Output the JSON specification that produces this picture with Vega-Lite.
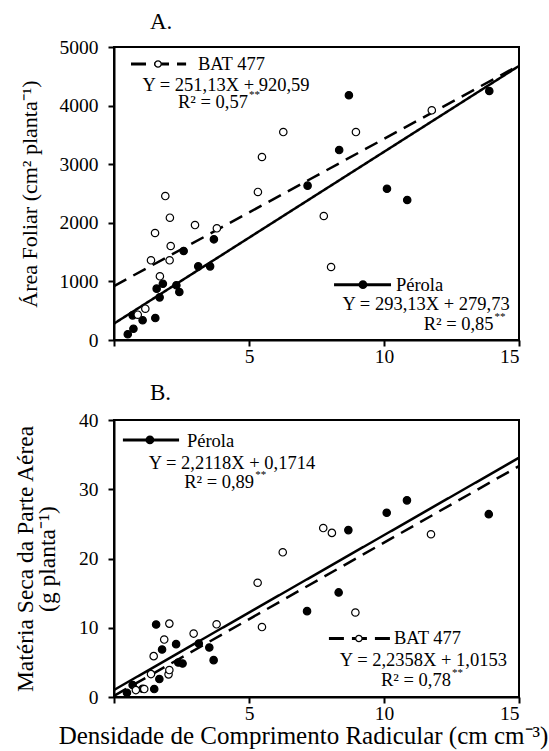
{
  "$schema": "https://vega.github.io/schema/vega-lite/v6.json",
  "background": "white",
  "padding": {"left": 12, "top": 10, "right": 5, "bottom": 5},
  "spacing": 14,
  "config": {
    "font": "Liberation Serif",
    "view": {"stroke": "black", "strokeWidth": 2},
    "axis": {
      "domainColor": "black", "domainWidth": 2,
      "tickColor": "black", "tickWidth": 2, "tickSize": 6,
      "labelFont": "Liberation Serif", "labelFontSize": 19.5, "labelColor": "black",
      "titleFont": "Liberation Serif", "titleFontSize": 22, "titleFontWeight": "normal", "titleColor": "black",
      "grid": false
    },
    "axisX": {"labelPadding": 1},
    "axisY": {"labelPadding": 10},
    "title": {"font": "Liberation Serif", "fontSize": 23, "fontWeight": "normal", "color": "black", "anchor": "start", "frame": "group"}
  },
  "datasets": {
    "pts_a": [
      {"dcr": 0.51, "af": 97, "cultivar": "Pérola"},
      {"dcr": 0.72, "af": 193, "cultivar": "Pérola"},
      {"dcr": 0.69, "af": 421, "cultivar": "Pérola"},
      {"dcr": 1.06, "af": 336, "cultivar": "Pérola"},
      {"dcr": 1.53, "af": 375, "cultivar": "Pérola"},
      {"dcr": 1.58, "af": 876, "cultivar": "Pérola"},
      {"dcr": 1.81, "af": 961, "cultivar": "Pérola"},
      {"dcr": 1.69, "af": 728, "cultivar": "Pérola"},
      {"dcr": 2.31, "af": 933, "cultivar": "Pérola"},
      {"dcr": 2.42, "af": 819, "cultivar": "Pérola"},
      {"dcr": 2.58, "af": 1519, "cultivar": "Pérola"},
      {"dcr": 3.12, "af": 1257, "cultivar": "Pérola"},
      {"dcr": 3.56, "af": 1257, "cultivar": "Pérola"},
      {"dcr": 3.70, "af": 1718, "cultivar": "Pérola"},
      {"dcr": 7.17, "af": 2634, "cultivar": "Pérola"},
      {"dcr": 8.34, "af": 3242, "cultivar": "Pérola"},
      {"dcr": 8.70, "af": 4176, "cultivar": "Pérola"},
      {"dcr": 10.11, "af": 2582, "cultivar": "Pérola"},
      {"dcr": 10.86, "af": 2389, "cultivar": "Pérola"},
      {"dcr": 13.9, "af": 4249, "cultivar": "Pérola"},
      {"dcr": 0.88, "af": 432, "cultivar": "BAT 477"},
      {"dcr": 1.16, "af": 534, "cultivar": "BAT 477"},
      {"dcr": 1.37, "af": 1360, "cultivar": "BAT 477"},
      {"dcr": 1.52, "af": 1826, "cultivar": "BAT 477"},
      {"dcr": 1.70, "af": 1087, "cultivar": "BAT 477"},
      {"dcr": 1.90, "af": 2457, "cultivar": "BAT 477"},
      {"dcr": 2.07, "af": 2087, "cultivar": "BAT 477"},
      {"dcr": 2.10, "af": 1604, "cultivar": "BAT 477"},
      {"dcr": 2.06, "af": 1360, "cultivar": "BAT 477"},
      {"dcr": 3.00, "af": 1962, "cultivar": "BAT 477"},
      {"dcr": 3.81, "af": 1906, "cultivar": "BAT 477"},
      {"dcr": 5.33, "af": 2526, "cultivar": "BAT 477"},
      {"dcr": 5.48, "af": 3123, "cultivar": "BAT 477"},
      {"dcr": 6.27, "af": 3549, "cultivar": "BAT 477"},
      {"dcr": 7.77, "af": 2116, "cultivar": "BAT 477"},
      {"dcr": 8.04, "af": 1246, "cultivar": "BAT 477"},
      {"dcr": 8.96, "af": 3549, "cultivar": "BAT 477"},
      {"dcr": 11.77, "af": 3920, "cultivar": "BAT 477"}
    ],
    "fit_a": [
      {"dcr": 0, "af": 279.73, "cultivar": "Pérola"},
      {"dcr": 15, "af": 4676.68, "cultivar": "Pérola"},
      {"dcr": 0, "af": 920.59, "cultivar": "BAT 477"},
      {"dcr": 15, "af": 4687.54, "cultivar": "BAT 477"}
    ],
    "pts_b": [
      {"dcr": 0.48, "ms": 0.62, "cultivar": "Pérola"},
      {"dcr": 0.69, "ms": 1.73, "cultivar": "Pérola"},
      {"dcr": 1.06, "ms": 1.2, "cultivar": "Pérola"},
      {"dcr": 1.49, "ms": 1.15, "cultivar": "Pérola"},
      {"dcr": 1.68, "ms": 2.59, "cultivar": "Pérola"},
      {"dcr": 1.56, "ms": 10.46, "cultivar": "Pérola"},
      {"dcr": 1.78, "ms": 6.86, "cultivar": "Pérola"},
      {"dcr": 2.30, "ms": 7.63, "cultivar": "Pérola"},
      {"dcr": 2.38, "ms": 4.99, "cultivar": "Pérola"},
      {"dcr": 2.54, "ms": 4.84, "cultivar": "Pérola"},
      {"dcr": 3.14, "ms": 7.72, "cultivar": "Pérola"},
      {"dcr": 3.53, "ms": 7.15, "cultivar": "Pérola"},
      {"dcr": 3.69, "ms": 5.32, "cultivar": "Pérola"},
      {"dcr": 7.15, "ms": 12.4, "cultivar": "Pérola"},
      {"dcr": 8.32, "ms": 15.1, "cultivar": "Pérola"},
      {"dcr": 8.68, "ms": 24.1, "cultivar": "Pérola"},
      {"dcr": 10.10, "ms": 26.6, "cultivar": "Pérola"},
      {"dcr": 10.85, "ms": 28.4, "cultivar": "Pérola"},
      {"dcr": 13.88, "ms": 26.4, "cultivar": "Pérola"},
      {"dcr": 0.81, "ms": 1.0, "cultivar": "BAT 477"},
      {"dcr": 1.12, "ms": 1.15, "cultivar": "BAT 477"},
      {"dcr": 1.37, "ms": 3.31, "cultivar": "BAT 477"},
      {"dcr": 1.47, "ms": 5.9, "cultivar": "BAT 477"},
      {"dcr": 1.86, "ms": 8.3, "cultivar": "BAT 477"},
      {"dcr": 2.05, "ms": 10.6, "cultivar": "BAT 477"},
      {"dcr": 2.02, "ms": 3.27, "cultivar": "BAT 477"},
      {"dcr": 2.05, "ms": 3.89, "cultivar": "BAT 477"},
      {"dcr": 2.95, "ms": 9.16, "cultivar": "BAT 477"},
      {"dcr": 3.80, "ms": 10.5, "cultivar": "BAT 477"},
      {"dcr": 5.32, "ms": 16.5, "cultivar": "BAT 477"},
      {"dcr": 5.48, "ms": 10.1, "cultivar": "BAT 477"},
      {"dcr": 6.25, "ms": 20.9, "cultivar": "BAT 477"},
      {"dcr": 7.75, "ms": 24.4, "cultivar": "BAT 477"},
      {"dcr": 8.07, "ms": 23.7, "cultivar": "BAT 477"},
      {"dcr": 8.94, "ms": 12.2, "cultivar": "BAT 477"},
      {"dcr": 11.74, "ms": 23.5, "cultivar": "BAT 477"}
    ],
    "fit_b": [
      {"dcr": 0, "ms": 1.0153, "line": "solid"},
      {"dcr": 15, "ms": 34.55, "line": "solid"},
      {"dcr": 0, "ms": 0.1714, "line": "dashed"},
      {"dcr": 15, "ms": 33.35, "line": "dashed"}
    ],
    "one": [{}]
  },
  "vconcat": [
    {
      "width": 405, "height": 293,
      "title": {"text": "A.", "dx": 36, "offset": 3},
      "layer": [
        {
          "data": {"name": "fit_a"},
          "mark": {"type": "line", "color": "black", "strokeWidth": 2.5},
          "encoding": {
            "x": {"field": "dcr", "type": "quantitative", "scale": {"domain": [0, 15], "nice": false},
                  "axis": {"title": null, "values": [0, 5, 10, 15], "labelExpr": "datum.value == 0 ? '' : datum.label"}},
            "y": {"field": "af", "type": "quantitative", "scale": {"domain": [0, 5000], "nice": false},
                  "axis": {"title": "Área Foliar (cm² planta⁻¹)", "values": [0, 1000, 2000, 3000, 4000, 5000], "format": "d", "titlePadding": 18}},
            "detail": {"field": "cultivar"},
            "strokeDash": {"field": "cultivar", "type": "nominal", "scale": {"domain": ["Pérola", "BAT 477"], "range": [[1, 0], [14, 8]]}, "legend": null}
          }
        },
        {
          "data": {"name": "pts_a"},
          "mark": {"type": "point", "shape": "circle", "size": 55, "stroke": "black", "strokeWidth": 1.2, "opacity": 1},
          "encoding": {
            "x": {"field": "dcr", "type": "quantitative"},
            "y": {"field": "af", "type": "quantitative"},
            "fill": {"field": "cultivar", "type": "nominal", "scale": {"domain": ["Pérola", "BAT 477"], "range": ["black", "white"]}, "legend": null}
          }
        },
        {
          "data": {"name": "one"},
          "mark": {"type": "rule", "color": "black", "strokeWidth": 3, "strokeDash": [15, 8]},
          "encoding": {"x": {"datum": 0.63, "type": "quantitative"}, "x2": {"datum": 2.67}, "y": {"datum": 4710, "type": "quantitative"}}
        },
        {
          "data": {"name": "one"},
          "mark": {"type": "point", "shape": "circle", "size": 40, "fill": "white", "stroke": "black", "strokeWidth": 1.2, "opacity": 1},
          "encoding": {"x": {"datum": 1.63, "type": "quantitative"}, "y": {"datum": 4710, "type": "quantitative"}}
        },
        {
          "data": {"name": "one"},
          "mark": {"type": "text", "align": "left", "baseline": "middle", "fontSize": 18.5, "color": "black"},
          "encoding": {"x": {"datum": 3.11, "type": "quantitative"}, "y": {"datum": 4710, "type": "quantitative"}, "text": {"value": "BAT 477"}}
        },
        {
          "data": {"name": "one"},
          "mark": {"type": "text", "align": "center", "baseline": "middle", "fontSize": 18.5, "color": "black"},
          "encoding": {"x": {"datum": 4.15, "type": "quantitative"}, "y": {"datum": 4352, "type": "quantitative"}, "text": {"value": "Y = 251,13X + 920,59"}}
        },
        {
          "data": {"name": "one"},
          "mark": {"type": "text", "align": "right", "baseline": "middle", "fontSize": 18.5, "color": "black"},
          "encoding": {"x": {"datum": 4.96, "type": "quantitative"}, "y": {"datum": 4061, "type": "quantitative"}, "text": {"value": "R² = 0,57"}}
        },
        {
          "data": {"name": "one"},
          "mark": {"type": "text", "align": "left", "baseline": "middle", "fontSize": 11, "dy": -7, "dx": 1, "color": "black"},
          "encoding": {"x": {"datum": 4.96, "type": "quantitative"}, "y": {"datum": 4061, "type": "quantitative"}, "text": {"value": "**"}}
        },
        {
          "data": {"name": "one"},
          "mark": {"type": "rule", "color": "black", "strokeWidth": 3},
          "encoding": {"x": {"datum": 8.15, "type": "quantitative"}, "x2": {"datum": 10.26}, "y": {"datum": 944, "type": "quantitative"}}
        },
        {
          "data": {"name": "one"},
          "mark": {"type": "point", "shape": "circle", "size": 45, "fill": "black", "stroke": "black", "opacity": 1},
          "encoding": {"x": {"datum": 9.22, "type": "quantitative"}, "y": {"datum": 944, "type": "quantitative"}}
        },
        {
          "data": {"name": "one"},
          "mark": {"type": "text", "align": "left", "baseline": "middle", "fontSize": 18.5, "color": "black"},
          "encoding": {"x": {"datum": 10.44, "type": "quantitative"}, "y": {"datum": 944, "type": "quantitative"}, "text": {"value": "Pérola"}}
        },
        {
          "data": {"name": "one"},
          "mark": {"type": "text", "align": "center", "baseline": "middle", "fontSize": 18.5, "color": "black"},
          "encoding": {"x": {"datum": 11.56, "type": "quantitative"}, "y": {"datum": 614, "type": "quantitative"}, "text": {"value": "Y = 293,13X + 279,73"}}
        },
        {
          "data": {"name": "one"},
          "mark": {"type": "text", "align": "right", "baseline": "middle", "fontSize": 18.5, "color": "black"},
          "encoding": {"x": {"datum": 14.06, "type": "quantitative"}, "y": {"datum": 273, "type": "quantitative"}, "text": {"value": "R² = 0,85"}}
        },
        {
          "data": {"name": "one"},
          "mark": {"type": "text", "align": "left", "baseline": "middle", "fontSize": 11, "dy": -7, "dx": 1, "color": "black"},
          "encoding": {"x": {"datum": 14.06, "type": "quantitative"}, "y": {"datum": 273, "type": "quantitative"}, "text": {"value": "**"}}
        }
      ]
    },
    {
      "width": 405, "height": 277,
      "title": {"text": "B.", "dx": 36, "offset": 5},
      "layer": [
        {
          "data": {"name": "fit_b"},
          "mark": {"type": "line", "color": "black", "strokeWidth": 2.5},
          "encoding": {
            "x": {"field": "dcr", "type": "quantitative", "scale": {"domain": [0, 15], "nice": false},
                  "axis": {"title": "Densidade de Comprimento Radicular (cm cm⁻³)", "values": [0, 5, 10, 15], "labelExpr": "datum.value == 0 ? '' : datum.label", "titlePadding": 1, "titleFontSize": 25, "titleX": 189}},
            "y": {"field": "ms", "type": "quantitative", "scale": {"domain": [0, 40], "nice": false},
                  "axis": {"title": ["Matéria Seca da Parte Aérea", "(g planta⁻¹)"], "values": [0, 5, 10, 15, 20, 25, 30, 35, 40], "titlePadding": 19, "titleFontSize": 23.5, "titleLineHeight": 22}},
            "detail": {"field": "line"},
            "strokeDash": {"field": "line", "type": "nominal", "scale": {"domain": ["solid", "dashed"], "range": [[1, 0], [14, 8]]}, "legend": null}
          }
        },
        {
          "data": {"name": "pts_b"},
          "mark": {"type": "point", "shape": "circle", "size": 55, "stroke": "black", "strokeWidth": 1.2, "opacity": 1},
          "encoding": {
            "x": {"field": "dcr", "type": "quantitative"},
            "y": {"field": "ms", "type": "quantitative"},
            "fill": {"field": "cultivar", "type": "nominal", "scale": {"domain": ["Pérola", "BAT 477"], "range": ["black", "white"]}, "legend": null}
          }
        },
        {
          "data": {"name": "one"},
          "mark": {"type": "rule", "color": "black", "strokeWidth": 3},
          "encoding": {"x": {"datum": 0.33, "type": "quantitative"}, "x2": {"datum": 2.41}, "y": {"datum": 37.12, "type": "quantitative"}}
        },
        {
          "data": {"name": "one"},
          "mark": {"type": "point", "shape": "circle", "size": 45, "fill": "black", "stroke": "black", "opacity": 1},
          "encoding": {"x": {"datum": 1.33, "type": "quantitative"}, "y": {"datum": 37.12, "type": "quantitative"}}
        },
        {
          "data": {"name": "one"},
          "mark": {"type": "text", "align": "left", "baseline": "middle", "fontSize": 18.5, "color": "black"},
          "encoding": {"x": {"datum": 2.70, "type": "quantitative"}, "y": {"datum": 37.0, "type": "quantitative"}, "text": {"value": "Pérola"}}
        },
        {
          "data": {"name": "one"},
          "mark": {"type": "text", "align": "center", "baseline": "middle", "fontSize": 18.5, "color": "black"},
          "encoding": {"x": {"datum": 4.37, "type": "quantitative"}, "y": {"datum": 33.86, "type": "quantitative"}, "text": {"value": "Y = 2,2118X + 0,1714"}}
        },
        {
          "data": {"name": "one"},
          "mark": {"type": "text", "align": "right", "baseline": "middle", "fontSize": 18.5, "color": "black"},
          "encoding": {"x": {"datum": 5.19, "type": "quantitative"}, "y": {"datum": 31.08, "type": "quantitative"}, "text": {"value": "R² = 0,89"}}
        },
        {
          "data": {"name": "one"},
          "mark": {"type": "text", "align": "left", "baseline": "middle", "fontSize": 11, "dy": -7, "dx": 1, "color": "black"},
          "encoding": {"x": {"datum": 5.19, "type": "quantitative"}, "y": {"datum": 31.08, "type": "quantitative"}, "text": {"value": "**"}}
        },
        {
          "data": {"name": "one"},
          "mark": {"type": "rule", "color": "black", "strokeWidth": 3, "strokeDash": [15, 8]},
          "encoding": {"x": {"datum": 7.96, "type": "quantitative"}, "x2": {"datum": 10.22}, "y": {"datum": 8.45, "type": "quantitative"}}
        },
        {
          "data": {"name": "one"},
          "mark": {"type": "point", "shape": "circle", "size": 40, "fill": "white", "stroke": "black", "strokeWidth": 1.2, "opacity": 1},
          "encoding": {"x": {"datum": 9.07, "type": "quantitative"}, "y": {"datum": 8.45, "type": "quantitative"}}
        },
        {
          "data": {"name": "one"},
          "mark": {"type": "text", "align": "left", "baseline": "middle", "fontSize": 18.5, "color": "black"},
          "encoding": {"x": {"datum": 10.37, "type": "quantitative"}, "y": {"datum": 8.45, "type": "quantitative"}, "text": {"value": "BAT 477"}}
        },
        {
          "data": {"name": "one"},
          "mark": {"type": "text", "align": "center", "baseline": "middle", "fontSize": 18.5, "color": "black"},
          "encoding": {"x": {"datum": 11.46, "type": "quantitative"}, "y": {"datum": 5.32, "type": "quantitative"}, "text": {"value": "Y = 2,2358X + 1,0153"}}
        },
        {
          "data": {"name": "one"},
          "mark": {"type": "text", "align": "right", "baseline": "middle", "fontSize": 18.5, "color": "black"},
          "encoding": {"x": {"datum": 12.48, "type": "quantitative"}, "y": {"datum": 2.45, "type": "quantitative"}, "text": {"value": "R² = 0,78"}}
        },
        {
          "data": {"name": "one"},
          "mark": {"type": "text", "align": "left", "baseline": "middle", "fontSize": 11, "dy": -7, "dx": 1, "color": "black"},
          "encoding": {"x": {"datum": 12.48, "type": "quantitative"}, "y": {"datum": 2.45, "type": "quantitative"}, "text": {"value": "**"}}
        }
      ]
    }
  ]
}
